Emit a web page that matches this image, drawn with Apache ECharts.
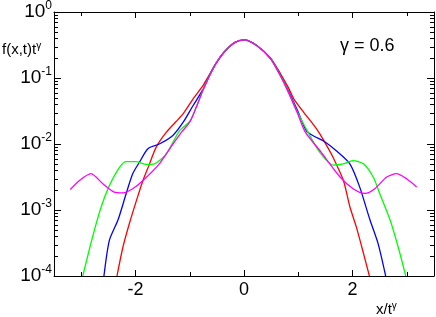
<!DOCTYPE html>
<html><head><meta charset="utf-8">
<script src="https://cdn.jsdelivr.net/npm/echarts@6/dist/echarts.min.js"></script>
<style>html,body{margin:0;padding:0;background:#fff}#c{width:436px;height:317px}</style>
</head><body><div id="c"></div>
<script>
var xMajorTicks = [-2, 0, 2];
var xMinorTicks = [-3, -1, 1, 3];
var yMajorTicks = [1e-4, 1e-3, 1e-2, 1e-1, 1];
var yMinorTicks = [];
[1e-4, 1e-3, 1e-2, 1e-1].forEach(function (d) { for (var k = 2; k <= 9; k++) yMinorTicks.push(k * d); });

var redX = [-2.34,-2.23,-2.11,-1.96,-1.86,-1.74,-1.62,-1.43,-1.25,-1.12,-0.94,-0.76,-0.63,-0.51,-0.36,-0.17,0,0.24,0.49,0.67,0.82,0.92,1.10,1.29,1.40,1.52,1.64,1.83,1.95,2.07,2.17,2.31];
var redY = [1e-4,2.75e-4,6.3e-4,1.58e-3,2.82e-3,5.0e-3,8.9e-3,1.51e-2,2.19e-2,2.88e-2,4.79e-2,7.6e-2,0.115,0.17,0.25,0.347,0.378,0.309,0.20,0.117,0.0708,0.0479,0.0302,0.0191,0.0141,0.00955,0.0063,0.00282,0.00112,5.5e-4,2.75e-4,1e-4];

var blueX = [-2.58,-2.48,-2.32,-2.17,-2.05,-1.92,-1.77,-1.56,-1.31,-1.12,-0.94,-0.76,-0.63,-0.51,-0.36,-0.17,0,0.24,0.49,0.67,0.82,0.98,1.15,1.30,1.46,1.70,1.95,2.13,2.32,2.47,2.61];
var blueY = [1e-4,3.47e-4,7.1e-4,1.78e-3,3.55e-3,5.4e-3,8.5e-3,1.0e-2,1.35e-2,2.14e-2,3.8e-2,6.6e-2,0.112,0.17,0.25,0.345,0.378,0.309,0.197,0.110,0.063,0.033,0.0158,0.0130,0.0112,7.9e-3,5.0e-3,2.24e-3,7.1e-4,3.1e-4,1e-4];

var greenX = [-2.97,-2.79,-2.63,-2.48,-2.29,-2.17,-1.99,-1.80,-1.65,-1.43,-1.19,-1.00,-0.88,-0.76,-0.63,-0.51,-0.36,-0.17,0,0.24,0.49,0.67,0.82,0.98,1.21,1.40,1.64,1.83,2.01,2.20,2.38,2.50,2.69,2.84,2.98];
var greenY = [1e-4,3.9e-4,1.12e-3,2.34e-3,4.47e-3,5.4e-3,5.4e-3,4.9e-3,5.0e-3,7.1e-3,1.58e-2,2.2e-2,3.6e-2,6.4e-2,0.11,0.17,0.25,0.344,0.378,0.309,0.196,0.109,0.061,0.031,0.0135,7.4e-3,4.8e-3,5.0e-3,5.6e-3,5.0e-3,3.16e-3,1.78e-3,7.1e-4,2.75e-4,1e-4];

var magentaX = [-3.20,-3.03,-2.82,-2.60,-2.39,-2.23,-2.05,-1.86,-1.56,-1.35,-1.15,-1.00,-0.88,-0.76,-0.63,-0.51,-0.36,-0.17,0,0.24,0.49,0.67,0.82,0.98,1.13,1.40,1.77,2.01,2.23,2.41,2.63,2.81,3.00,3.18];
var magentaY = [2.04e-3,2.8e-3,3.55e-3,2.5e-3,1.87e-3,1.82e-3,2.1e-3,2.8e-3,5.0e-3,8.9e-3,1.51e-2,2.14e-2,3.6e-2,6.4e-2,0.11,0.17,0.25,0.344,0.378,0.309,0.195,0.108,0.060,0.030,0.0151,7.9e-3,3.16e-3,2.1e-3,1.78e-3,2.1e-3,3.16e-3,3.55e-3,2.95e-3,2.24e-3];

var X_MIN = -3.5, X_MAX = 3.5, Y_MIN = 1e-4, Y_MAX = 1;

function pairs(xs, ys) { return xs.map(function (x, i) { return [x, ys[i]]; }); }

var FONT = 'Liberation Sans';
var lineStyleAxis = { color: '#000', width: 1 };

function xAx(pos, labels) {
  return {
    type: 'value', position: pos, min: X_MIN, max: X_MAX,
    axisLine: { show: true, onZero: false, lineStyle: lineStyleAxis },
    axisTick: { show: true, inside: true, length: 6, customValues: xMajorTicks, lineStyle: lineStyleAxis },
    axisLabel: labels ? { show: true, customValues: xMajorTicks, margin: 5, color: '#000', fontFamily: FONT, fontSize: 18,
      formatter: function (v) { return String(v); } } : { show: false },
    splitLine: { show: false }
  };
}
function yAx(pos, labels) {
  return {
    type: 'log', logBase: 10, position: pos, min: Y_MIN, max: Y_MAX,
    axisLine: { show: true, onZero: false, lineStyle: lineStyleAxis },
    axisTick: { show: true, inside: true, length: 7, customValues: yMajorTicks, lineStyle: lineStyleAxis },
    axisLabel: labels ? {
      show: true, customValues: yMajorTicks, margin: 2, color: '#000', fontFamily: FONT,
      formatter: function (v) { var e = Math.round(Math.log10(v)); return '{b|10}{s|' + e + '}'; },
      rich: { b: { fontSize: 19, fontFamily: FONT, color: '#000', lineHeight: 22 },
              s: { fontSize: 12, fontFamily: FONT, color: '#000', verticalAlign: 'top', padding: [0, 0, 12, 0] } }
    } : { show: false },
    splitLine: { show: false }
  };
}

function ser(name, color, xs, ys) {
  return { name: name, type: 'line', data: pairs(xs, ys), showSymbol: false,
    smooth: 0.25, lineStyle: { color: color, width: 1.3 }, clip: true, silent: true, animation: false };
}

function tickLine(x1, y1, x2, y2) {
  return { type: 'line', shape: { x1: x1, y1: y1, x2: x2, y2: y2 }, style: { stroke: '#000', lineWidth: 1 } };
}

var yMinorSeries = {
  type: 'custom', silent: true, clip: false, z: 5,
  data: yMinorTicks.map(function (v) { return [X_MIN, v]; }),
  encode: { x: 0, y: 1 },
  renderItem: function (params, api) {
    var v = api.value(1);
    var p = api.coord([X_MIN, v]), q = api.coord([X_MAX, v]);
    var y = Math.round(p[1]) + 0.5;
    return { type: 'group', children: [tickLine(p[0], y, p[0] + 4, y), tickLine(q[0], y, q[0] - 4, y)] };
  }
};
var xMinorSeries = {
  type: 'custom', silent: true, clip: false, z: 5,
  data: xMinorTicks.map(function (v) { return [v, Y_MIN]; }),
  encode: { x: 0, y: 1 },
  renderItem: function (params, api) {
    var v = api.value(0);
    var p = api.coord([v, Y_MIN]), q = api.coord([v, Y_MAX]);
    var x = Math.round(p[0]) + 0.5;
    return { type: 'group', children: [tickLine(x, p[1], x, p[1] - 4), tickLine(x, q[1], x, q[1] + 4)] };
  }
};

var chart = echarts.init(document.getElementById('c'), null, { renderer: 'canvas' });
chart.setOption({
  animation: false,
  backgroundColor: '#fff',
  grid: { left: 54, top: 11, right: 2, bottom: 41 },
  xAxis: [xAx('bottom', true), xAx('top', false)],
  yAxis: [yAx('left', true), yAx('right', false)],
  series: [ser('red', '#ff0000', redX, redY), ser('blue', '#0000ff', blueX, blueY),
           ser('green', '#00ff00', greenX, greenY), ser('magenta', '#ff00ff', magentaX, magentaY),
           yMinorSeries, xMinorSeries],
  graphic: [
    { type: 'text', left: 2, top: 41, style: { text: '{a|f(x,t)t}{g|γ}', rich: {
        a: { fontSize: 15, fontFamily: FONT, fill: '#000', lineHeight: 17 },
        g: { fontSize: 10, fontFamily: FONT, fill: '#000', verticalAlign: 'top', padding: [0, 0, 8, 0] } } } },
    { type: 'text', left: 376, top: 301, style: { text: '{a|x/t}{g|γ}', rich: {
        a: { fontSize: 15, fontFamily: FONT, fill: '#000', lineHeight: 17 },
        g: { fontSize: 10, fontFamily: FONT, fill: '#000', verticalAlign: 'top', padding: [0, 0, 8, 0] } } } },
    { type: 'text', left: 340, top: 37, style: { text: 'γ = 0.6', fontSize: 18, fontFamily: FONT, fill: '#000' } }
  ]
});
</script></body></html>
